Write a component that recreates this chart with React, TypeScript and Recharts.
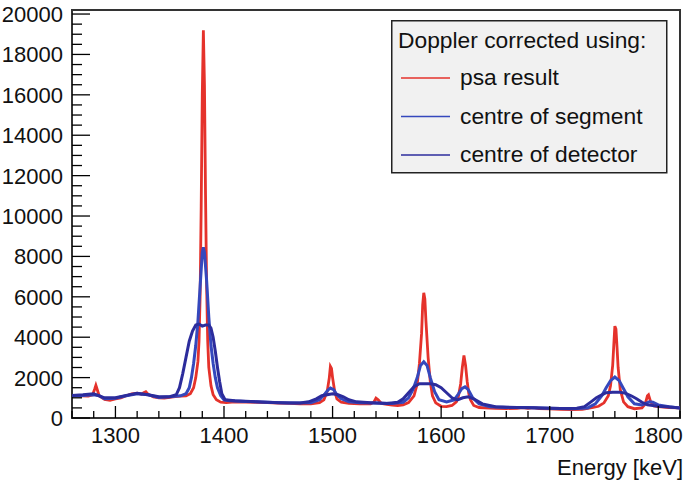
import React from 'react'
import { LineChart, Line, XAxis, YAxis, Legend, ReferenceArea } from 'recharts'

// spectra: [energy keV, counts]
const psaResult: [number, number][] = [
  [1260, 1120], [1268, 1100], [1275, 1080], [1279, 1150], [1281, 1450], [1282, 1620], [1283, 1450],
  [1285, 1100], [1290, 920], [1295, 880], [1300, 950], [1305, 1000], [1310, 1100], [1315, 1200],
  [1320, 1230], [1324, 1180], [1326, 1250], [1328, 1300], [1330, 1180], [1335, 1050], [1340, 1000],
  [1345, 980], [1350, 1020], [1355, 1060], [1360, 1080], [1365, 1100], [1369, 1200], [1372, 1500],
  [1374, 2000], [1376, 2800], [1377, 3800], [1378, 6000], [1379, 10500], [1380, 16000], [1381, 19200],
  [1382, 16500], [1383, 11000], [1384, 6500], [1385, 3800], [1386, 2500], [1388, 1600], [1390, 1150],
  [1393, 900], [1397, 780], [1402, 760], [1410, 800], [1420, 790], [1430, 780], [1440, 760],
  [1450, 740], [1460, 720], [1470, 700], [1480, 700], [1488, 760], [1492, 900], [1495, 1300],
  [1497, 2000], [1498, 2550], [1499, 2450], [1500, 2000], [1502, 1300], [1504, 950], [1508, 780],
  [1515, 720], [1525, 700], [1535, 700], [1538, 780], [1540, 980], [1542, 900], [1545, 720],
  [1550, 680], [1555, 640], [1560, 620], [1565, 650], [1570, 760], [1575, 1100], [1578, 1700],
  [1580, 2700], [1582, 4200], [1583, 5600], [1584, 6200], [1585, 5900], [1586, 4800], [1588, 3000],
  [1590, 1800], [1592, 1100], [1595, 750], [1600, 580], [1605, 560], [1610, 620], [1614, 800],
  [1616, 1100], [1618, 1700], [1619.5, 2500], [1621, 3100], [1622.5, 2600], [1624, 1800], [1625.5, 1200],
  [1627, 900], [1630, 620], [1635, 520], [1640, 500], [1650, 480], [1660, 470], [1670, 480],
  [1675, 520], [1680, 480], [1685, 510], [1690, 470], [1700, 450], [1710, 430], [1720, 420],
  [1730, 430], [1740, 520], [1745, 580], [1750, 750], [1754, 1100], [1756, 1600], [1758, 2600],
  [1759, 3600], [1760, 4550], [1761, 4400], [1762, 3500], [1763, 2500], [1765, 1400], [1768, 800],
  [1772, 560], [1778, 460], [1785, 500], [1788, 700], [1790, 1100], [1791, 1150], [1793, 800],
  [1796, 600], [1800, 560], [1810, 520], [1820, 500],
]

const segmentCentre: [number, number][] = [
  [1260, 1100], [1270, 1120], [1280, 1150], [1285, 1100], [1290, 950], [1300, 980], [1310, 1100],
  [1320, 1200], [1330, 1150], [1340, 1020], [1350, 1050], [1360, 1100], [1365, 1200], [1368, 1500],
  [1370, 2000], [1372, 2700], [1374, 3600], [1376, 4800], [1378, 6500], [1380, 8200], [1381, 8450],
  [1382, 8200], [1384, 6800], [1386, 5000], [1388, 3600], [1390, 2700], [1392, 2000], [1394, 1500],
  [1397, 1100], [1400, 900], [1405, 850], [1420, 820], [1440, 780], [1460, 740], [1480, 760],
  [1488, 900], [1493, 1200], [1496, 1400], [1498, 1480], [1501, 1400], [1504, 1150], [1508, 950],
  [1515, 800], [1525, 760], [1540, 740], [1555, 720], [1565, 780], [1570, 1000], [1574, 1400],
  [1578, 2000], [1581, 2600], [1584, 2780], [1587, 2600], [1590, 2000], [1594, 1300], [1598, 900],
  [1605, 800], [1612, 900], [1616, 1200], [1619, 1450], [1622, 1540], [1625, 1400], [1629, 1000],
  [1635, 700], [1645, 560], [1660, 520], [1680, 520], [1700, 480], [1720, 460], [1735, 500],
  [1742, 700], [1748, 1100], [1752, 1500], [1756, 1850], [1760, 2030], [1764, 1850], [1768, 1450],
  [1772, 1050], [1778, 700], [1785, 650], [1792, 800], [1795, 780], [1800, 650], [1810, 560],
  [1820, 500],
]

const detectorCentre: [number, number][] = [
  [1260, 1120], [1270, 1150], [1280, 1200], [1290, 1000], [1300, 1000], [1310, 1120], [1320, 1230],
  [1330, 1150], [1340, 1050], [1350, 1050], [1356, 1150], [1359, 1500], [1362, 2200], [1365, 3000],
  [1368, 3800], [1371, 4300], [1374, 4600], [1377, 4650], [1380, 4550], [1383, 4600], [1386, 4600],
  [1388, 4450], [1390, 4000], [1392, 3300], [1394, 2500], [1396, 1800], [1398, 1200], [1401, 900],
  [1410, 850], [1430, 800], [1450, 760], [1470, 740], [1478, 800], [1485, 950], [1490, 1100],
  [1495, 1150], [1500, 1200], [1505, 1150], [1510, 1050], [1515, 900], [1522, 800], [1535, 760],
  [1550, 720], [1560, 780], [1565, 950], [1570, 1250], [1575, 1550], [1580, 1700], [1585, 1700],
  [1590, 1700], [1595, 1650], [1600, 1500], [1605, 1250], [1610, 1000], [1615, 900], [1620, 1000],
  [1625, 1050], [1630, 950], [1638, 700], [1650, 560], [1670, 520], [1690, 500], [1710, 470],
  [1725, 480], [1732, 560], [1738, 800], [1743, 1000], [1748, 1150], [1752, 1250], [1758, 1280],
  [1765, 1270], [1770, 1220], [1775, 1100], [1780, 950], [1785, 780], [1790, 650], [1800, 580],
  [1810, 540], [1820, 500],
]

const series = [
  { name: 'psa result', color: '#e5322b', width: 2.8, points: psaResult },
  { name: 'centre of segment', color: '#3548bd', width: 3, points: segmentCentre },
  { name: 'centre of detector', color: '#2c2c9c', width: 3, points: detectorCentre },
]

const energyMajor = [1300, 1400, 1500, 1600, 1700, 1800]
const countsMajor = [0, 2000, 4000, 6000, 8000, 10000, 12000, 14000, 16000, 18000, 20000]
const energyTicks: number[] = []
for (let e = 1260; e <= 1820; e += 20) energyTicks.push(e)
const countsTicks: number[] = []
for (let c = 0; c <= 20000; c += 500) countsTicks.push(c)

const font = '"Liberation Sans", Arial, Helvetica, sans-serif'

const EnergyTick = (props: any) => {
  const { x, y, payload } = props
  const major = energyMajor.includes(payload.value)
  return (
    <g>
      <line x1={x} x2={x} y1={y} y2={y - (major ? 12 : 7)} stroke="#000" strokeWidth={1.3} />
      {major && (
        <text x={x} y={y + 25} textAnchor="middle" fontSize={22} fontFamily={font} fill="#111">
          {payload.value}
        </text>
      )}
    </g>
  )
}

const CountsTick = (props: any) => {
  const { x, y, payload } = props
  const major = countsMajor.includes(payload.value)
  return (
    <g>
      <line x1={x} x2={x + (major ? 18 : 10)} y1={y} y2={y} stroke="#000" strokeWidth={1.3} />
      {major && (
        <text x={x - 9} y={y + 8} textAnchor="end" fontSize={22} fontFamily={font} fill="#111">
          {payload.value}
        </text>
      )}
    </g>
  )
}

const LegendBox = () => (
  <svg width={277} height={154} style={{ display: 'block' }}>
    <rect x={0.75} y={0.75} width={275} height={152} fill="#f1f1f1" stroke="#222" strokeWidth={1.5} />
    <text x={7} y={28} fontSize={22.8} fontFamily={font} fill="#111">
      Doppler corrected using:
    </text>
    {series.map((s, i) => (
      <g key={s.name}>
        <line x1={10} x2={59} y1={58 + i * 38.5} y2={58 + i * 38.5} stroke={s.color} strokeWidth={1.5} />
        <text x={69} y={65 + i * 38.5} fontSize={22.8} fontFamily={font} fill="#111">
          {s.name}
        </text>
      </g>
    ))}
  </svg>
)

export default function App() {
  return (
    <div style={{ position: 'absolute', left: 0, top: 0, background: '#fff' }}>
      <LineChart width={685} height={481} margin={{ top: 10, right: 5, left: 0, bottom: 0 }}>
        <XAxis
          type="number"
          dataKey="e"
          domain={[1260, 1820]}
          allowDataOverflow
          ticks={energyTicks}
          interval={0}
          tick={<EnergyTick />}
          tickLine={false}
          axisLine={false}
          tickSize={0}
          tickMargin={0}
          height={63}
          label={{
            content: (p: any) => (
              <text
                x={p.viewBox.x + p.viewBox.width + 3}
                y={p.viewBox.y + p.viewBox.height - 6}
                textAnchor="end"
                fontSize={22}
                fontFamily={font}
                fill="#111"
              >
                Energy [keV]
              </text>
            ),
          }}
        />
        <YAxis
          type="number"
          domain={[0, 20200]}
          allowDataOverflow
          ticks={countsTicks}
          interval={0}
          tick={<CountsTick />}
          tickLine={false}
          axisLine={false}
          tickSize={0}
          tickMargin={0}
          width={72}
        />
        <ReferenceArea x1={1260} x2={1820} y1={0} y2={20200} fill="none" stroke="#333" strokeWidth={2} />
        {series.map((s) => (
          <Line
            key={s.name}
            data={s.points.map(([e, c]) => ({ e, c }))}
            dataKey="c"
            name={s.name}
            stroke={s.color}
            strokeWidth={s.width}
            dot={false}
            type="linear"
            isAnimationActive={false}
          />
        ))}
        <Legend
          layout="horizontal"
          verticalAlign="middle"
          align="center"
          wrapperStyle={{ left: 391, top: 20, width: 277, height: 154 }}
          content={() => <LegendBox />}
        />
      </LineChart>
    </div>
  )
}
